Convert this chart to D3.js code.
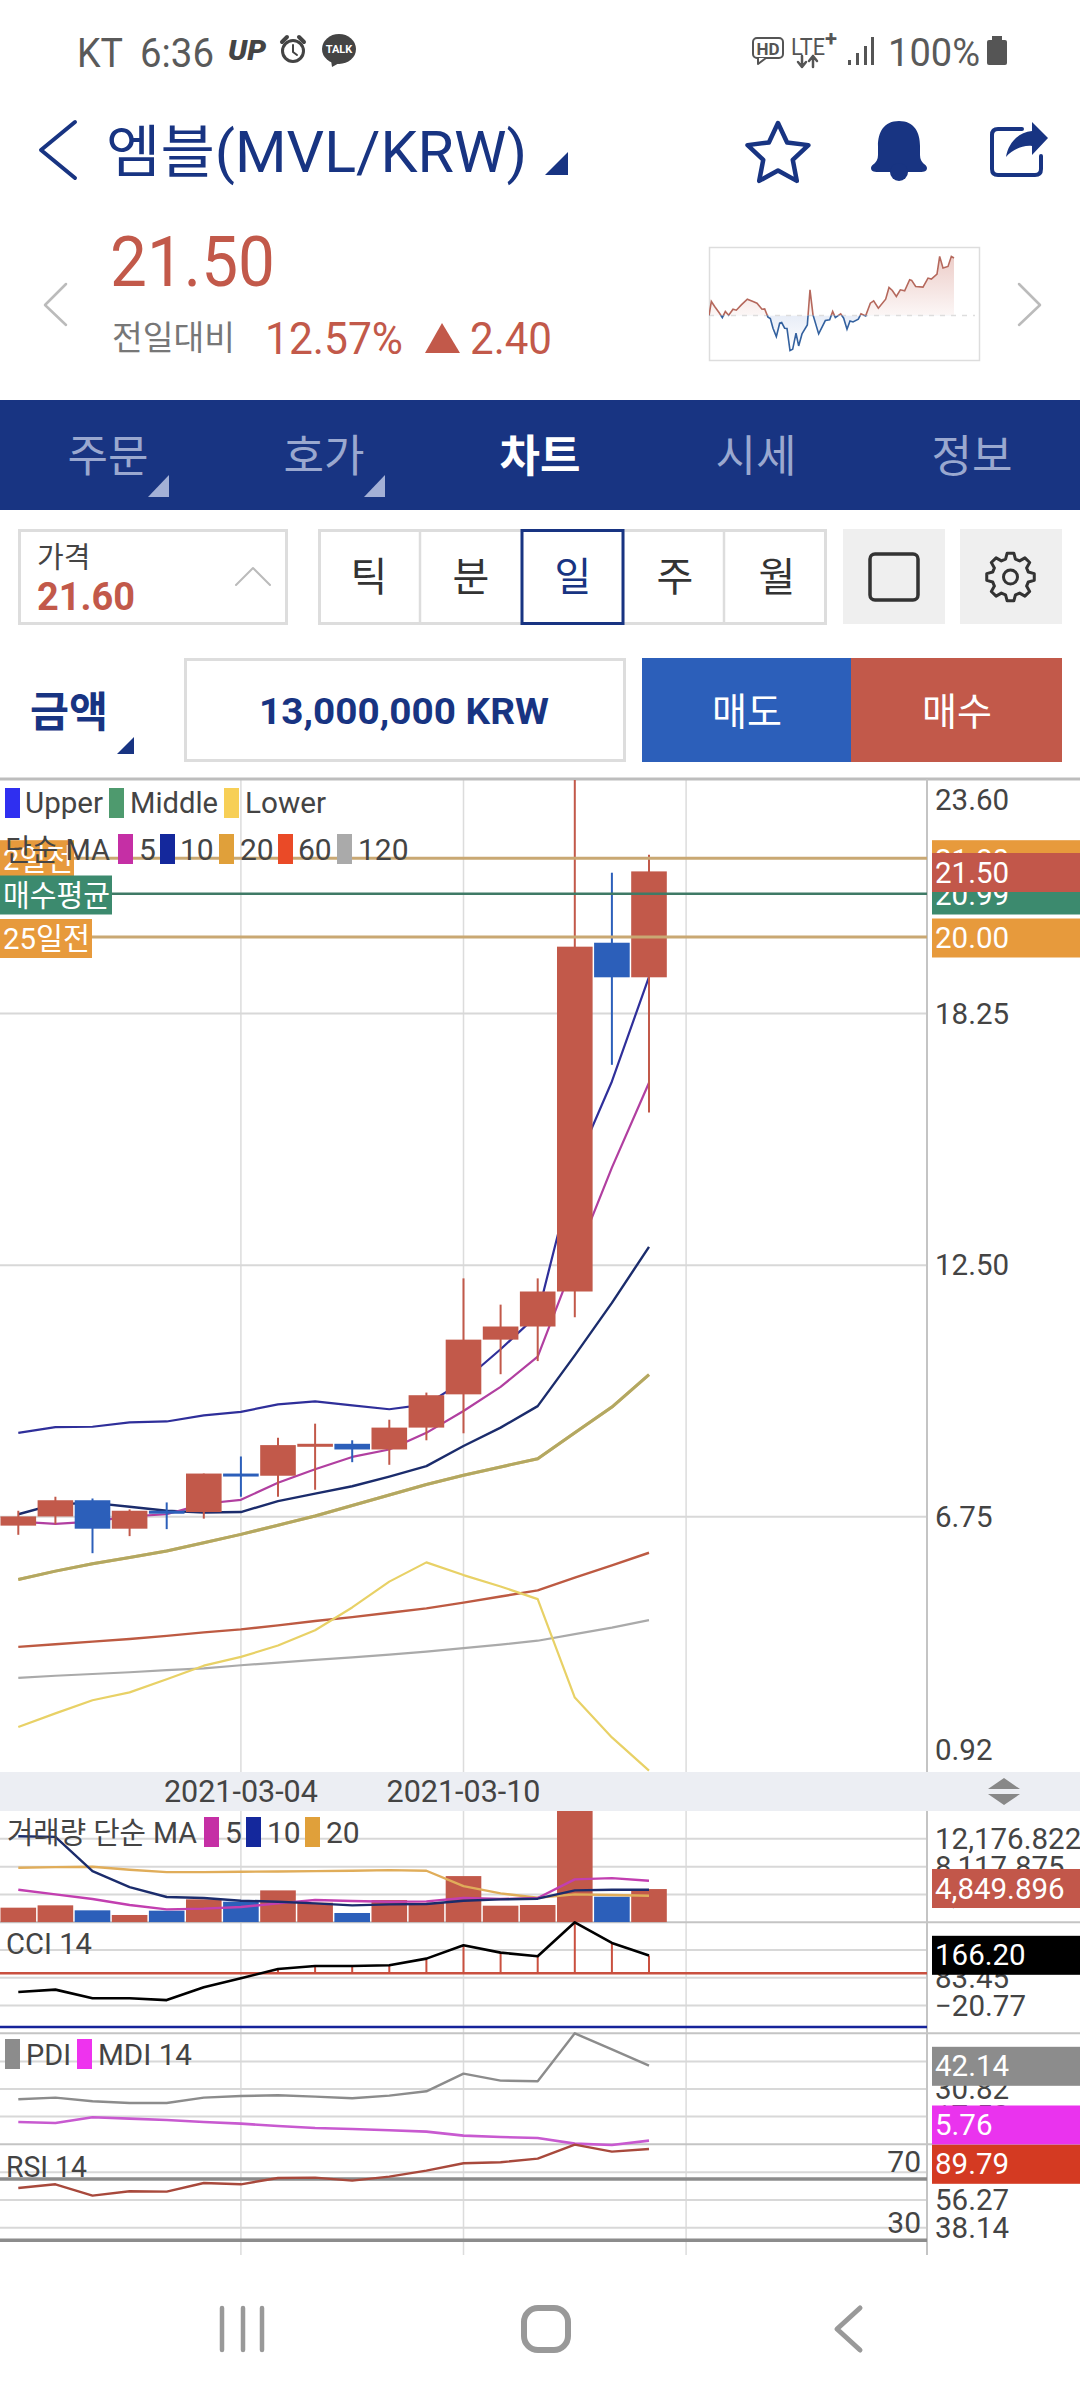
<!DOCTYPE html>
<html><head><meta charset="utf-8">
<script src="https://cdn.jsdelivr.net/npm/d3@7"></script>
<style>html,body{margin:0;padding:0;background:#fff}svg{display:block}text{font-family:Roboto,"Noto Sans CJK KR",sans-serif}</style>
</head><body><svg id="c" width="1080" height="2400" viewBox="0 0 1080 2400"></svg>
<script>
// ---------- data ----------
const dates=["2021-02-26","2021-02-27","2021-02-28","2021-03-01","2021-03-02","2021-03-03","2021-03-04","2021-03-05","2021-03-06","2021-03-07","2021-03-08","2021-03-09","2021-03-10","2021-03-11","2021-03-12","2021-03-13","2021-03-14","2021-03-15","2021-03-16"];
const dateTicks=["2021-03-04","2021-03-10"];
const opens =[6.55,6.76,7.13,6.48,6.89,6.86,7.74,7.69,8.39,8.42,8.29,8.79,9.55,10.80,11.10,11.90,19.87,19.08];
const highs =[6.89,7.21,7.17,6.92,7.08,7.74,8.13,8.56,8.88,8.50,8.97,9.59,12.20,11.60,12.20,25.50,21.47,21.88];
const lows  =[6.34,6.58,5.92,6.31,6.47,6.71,7.21,7.21,7.37,8.00,7.94,8.50,8.66,10.01,10.31,11.31,17.08,15.99];
const closes=[6.76,7.13,6.48,6.89,6.85,7.74,7.69,8.39,8.42,8.29,8.79,9.53,10.80,11.10,11.90,19.78,19.08,21.50];
const bbUpper=[8.67,8.80,8.81,8.91,8.93,9.07,9.15,9.32,9.39,9.30,9.21,9.32,9.85,10.58,11.37,14.73,16.70,19.09];
const bbMiddle=[5.32,5.51,5.68,5.82,5.97,6.16,6.35,6.56,6.77,7.01,7.25,7.49,7.70,7.89,8.08,8.67,9.26,10.00];
const bbLower=[1.95,2.26,2.56,2.74,3.04,3.35,3.55,3.81,4.16,4.68,5.27,5.71,5.42,5.16,4.87,2.62,1.71,0.95];
const ma5=[6.64,6.59,6.64,6.76,6.81,7.05,7.14,7.53,7.84,8.12,8.29,8.67,9.17,9.72,10.41,12.61,14.73,16.67];
const ma10=[6.81,7.04,7.07,6.98,6.89,6.85,6.86,7.11,7.28,7.45,7.67,7.91,8.37,8.79,9.28,10.44,11.64,12.92];
const ma60=[3.78,3.84,3.90,3.96,4.03,4.11,4.18,4.27,4.37,4.46,4.56,4.66,4.79,4.93,5.07,5.36,5.64,5.93];
const ma120=[3.07,3.12,3.16,3.20,3.25,3.29,3.36,3.42,3.48,3.54,3.60,3.67,3.75,3.83,3.92,4.07,4.22,4.39];
const priceTicks=[23.60,18.25,12.50,6.75,0.92];
const volumes=[2134,2474,1746,1067,1698,3347,3007,4656,2862,1358,3250,2862,6742,2425,2522,17500,3735,4849.896];
const volMa5=[4753,4074,3395,2522,1892,1989,2231,2765,3250,3104,3007,3056,3541,3395,3541,6257,6451,6063];
const volMa10=[12562,12465,7469,5141,3686,3541,3153,3007,2765,2474,2619,2668,3153,3347,3444,4656,4753,4753];
const volMa20=[7954,8051,8100,7663,7324,7324,7372,7421,7469,7518,7615,7518,5287,4220,3589,4074,3977,3880];
const volTicks=[12176.822,8117.875,4058.947];
const cci=[30.1,38.8,6.5,6.5,-0.2,47.5,81,115.7,126.9,126.9,129.4,154.2,203.8,176.5,162.9,289.4,212.5,166.2];
const cciTicks=[186.6,83.45,-20.77];
const pdi=[25.81,26.62,24.84,24.03,24.03,26.62,27.42,27.75,27.10,26.29,27.59,29.69,38.26,34.86,34.54,57.82,50.06,42.14];
const mdi=[14.81,14.33,17.08,16.43,15.78,14.81,14.0,12.87,11.90,11.42,10.77,10.12,8.18,7.53,7.05,4.30,3.66,5.76];
const diTicks=[44.14,30.82,17.50];
const rsi=[64.13,66.52,59.13,61.96,61.74,67.39,66.52,70.65,70.87,68.91,71.52,75.44,80.22,80.87,83.26,92.39,87.83,89.57];
const rsiTicks=[74.41,56.27,38.14];
const sparkT=[0,7,17,30,40,49,59,72,82,97,115,132,144,159,167,177,184,192,202,212,218,227,234,243,251,261,269,279,295,303,312,329,349,362,371,379,395,404,414,423,432,448,456,470,484,494,508,530,540,550,562,574,587,602,608,620,642,657,667,684,692,702,717,727,735];
const sparkV=[0,4.2,2.7,.9,-.6,1.2,.1,1.9,1.6,3.2,4.9,4.2,3.7,1.9,2,-.5,-.9,-3.8,-6.3,-2.3,-2.1,-3.8,-3.9,-10.5,-10.1,-5.3,-9.1,-5.5,-2.8,7.7,.2,-5.5,-1.5,-1.3,1.2,-.6,.5,-.8,-4.1,-1.6,-1.9,-1.1,.5,-.1,3.7,4.4,2.2,4.9,8.4,7.5,5.7,7.7,7.4,10.7,10.5,8.7,8.5,11.2,10.9,12.4,17.7,14.2,14.7,17.7,17.2];
const tabs=["주문","호가","차트","시세","정보"];
const periods=["틱","분","일","주","월"];

// ---------- setup ----------
const NAVY="#183482",RED="#c2594a",BLUE="#2c5fba",INK="#444";
const svg=d3.select("#c");
function t(x,y,s,o={}){const e=svg.append("text").attr("x",x).attr("y",y).attr("dominant-baseline",o.base||"central")
 .attr("font-size",o.size||29.5).attr("fill",o.fill||INK).attr("font-weight",o.weight||400).attr("text-anchor",o.anchor||"start").text(s);
 if(o.style)e.attr("font-style",o.style);
 if(o.len)e.attr("textLength",o.len).attr("lengthAdjust","spacingAndGlyphs");return e;}
function r(x,y,w,h,f,o={}){return svg.append("rect").attr("x",x).attr("y",y).attr("width",w).attr("height",h).attr("fill",f).attr("stroke",o.stroke||"none").attr("stroke-width",o.sw||0).attr("rx",o.rx||0);}
function p(d,f,o={}){return svg.append("path").attr("d",d).attr("fill",f).attr("stroke",o.stroke||"none").attr("stroke-width",o.sw||0).attr("stroke-linejoin","round").attr("stroke-linecap",o.cap||"round");}

// ---------- status bar ----------
const SB="#5a5a5a";
t(77,66.5,"KT",{size:40,fill:SB,base:"auto",len:46});
t(140,66.5,"6:36",{size:40,fill:SB,base:"auto",len:74});
t(228,60,"UP",{size:27,fill:"#444",weight:900,style:"italic",base:"auto",len:38});
svg.append("circle").attr("cx",293).attr("cy",51).attr("r",10.5).attr("fill","none").attr("stroke","#444").attr("stroke-width",3);
p("M293,45 L293,52 L297,55","none",{stroke:"#444",sw:2});
p("M282,42 L287,37 M304,42 L299,37","none",{stroke:"#444",sw:4});
svg.append("ellipse").attr("cx",339).attr("cy",49).attr("rx",17).attr("ry",15).attr("fill","#444");
p("M331,60 L332,67 L341,62 Z","#444");
t(339,49,"TALK",{size:11,fill:"#fff",weight:700,anchor:"middle"});
r(753,38,30,20,"#fff",{stroke:"#555",sw:2,rx:4});
p("M758,58 L758,64 L766,58","#fff",{stroke:"#555",sw:2});
t(768,48.5,"HD",{size:17,fill:"#555",weight:700,anchor:"middle"});
t(791,55,"LTE",{size:24,fill:"#555",base:"auto",len:34});
t(825,46,"+",{size:22,fill:"#555",weight:700,base:"auto"});
p("M802,56 L802,67 M798,62 L802,67 L806,62 M813,67 L813,56 M809,61 L813,56 L817,61","none",{stroke:"#555",sw:2.5});
[[848,60],[856,53],[864,46],[871,37]].forEach(b=>r(b[0],b[1],3,65-b[1],"#555"));
t(888,66,"100%",{size:38,fill:SB,base:"auto",len:92});
r(987,40,20,25,"#555",{rx:2});r(992,36,10,5,"#555");

// ---------- title ----------
p("M75,122 L41,150 L75,178","none",{stroke:NAVY,sw:4});
t(106,172,"엠블(MVL/KRW)",{size:57,fill:NAVY,base:"auto",len:421});
p("M568,152 L568,175 L545,175 Z",NAVY);
const starPts=d3.range(10).map(i=>[i*Math.PI/5,i%2?15.5:32]);
svg.append("path").attr("d",d3.lineRadial().curve(d3.curveLinearClosed)(starPts)).attr("transform","translate(778,155)").attr("fill","none").attr("stroke",NAVY).attr("stroke-width",4.5).attr("stroke-linejoin","round");
p("M899,121 C884,121 878,132 878,146 L878,155 C878,164 871,164 871,168 C871,172 875,172 880,172 L918,172 C923,172 927,172 927,168 C927,164 920,164 920,155 L920,146 C920,132 914,121 899,121 Z",NAVY);
svg.append("circle").attr("cx",899).attr("cy",172).attr("r",9).attr("fill",NAVY);
p("M1022,129 L998,129 Q992,129 992,135 L992,169 Q992,175 998,175 L1035,175 Q1041,175 1041,169 L1041,156","none",{stroke:NAVY,sw:4});
p("M1048,138 L1032,122 L1032,131 C1018,132 1008,144 1006,157 C1012,150 1022,145 1032,146 L1032,155 Z",NAVY);

// ---------- price summary ----------
t(110,286,"21.50",{size:71,fill:RED,base:"auto",len:165});
p("M66,284 L45,305 L66,325","none",{stroke:"#bbb",sw:2.5});
p("M1019,284 L1040,305 L1019,325","none",{stroke:"#bbb",sw:2.5});
t(112,338,"전일대비",{size:34,fill:"#777",len:123});
t(265,339,"12.57%",{size:44,fill:RED,len:138});
p("M442,323 L425,353 L460,353 Z",RED);
t(470,339,"2.40",{size:44,fill:RED,len:82});

// sparkline
r(709.5,247.5,270,113,"#fff",{stroke:"#ddd",sw:1.5});
const sx=d3.scaleLinear().domain([0,810]).range([709,979]);
const sy=d3.scaleLinear().domain([-13.3,20.5]).range([360,247]);
const defs=svg.append("defs");
const g1=defs.append("linearGradient").attr("id","gr").attr("x1",0).attr("y1",0).attr("x2",0).attr("y2",1);
g1.append("stop").attr("offset",0).attr("stop-color",RED).attr("stop-opacity",.3);
g1.append("stop").attr("offset",.75).attr("stop-color",RED).attr("stop-opacity",0);
const g2=defs.append("linearGradient").attr("id","gb").attr("x1",0).attr("y1",0).attr("x2",0).attr("y2",1);
g2.append("stop").attr("offset",.6).attr("stop-color",BLUE).attr("stop-opacity",.12);
g2.append("stop").attr("offset",1).attr("stop-color",BLUE).attr("stop-opacity",0);
defs.append("clipPath").attr("id","sUp").append("rect").attr("x",709).attr("y",247).attr("width",270).attr("height",sy(0)-247);
defs.append("clipPath").attr("id","sDn").append("rect").attr("x",709).attr("y",sy(0)).attr("width",270).attr("height",360-sy(0));
defs.append("clipPath").attr("id","pricePanel").append("rect").attr("x",0).attr("y",780).attr("width",927).attr("height",992);
defs.append("clipPath").attr("id","volPanel").append("rect").attr("x",0).attr("y",1811).attr("width",927).attr("height",111.3);
const sparkData=sparkT.map((d,i)=>[d,sparkV[i]]);
const sLine=d3.line().x(d=>sx(d[0])).y(d=>sy(d[1]));
const sArea=d3.area().x(d=>sx(d[0])).y0(sy(0)).y1(d=>sy(d[1]));
svg.append("path").attr("d",sArea(sparkData)).attr("fill","url(#gr)").attr("clip-path","url(#sUp)");
svg.append("path").attr("d",sArea(sparkData)).attr("fill","url(#gb)").attr("clip-path","url(#sDn)");
svg.append("line").attr("x1",709).attr("x2",975).attr("y1",sy(0)).attr("y2",sy(0)).attr("stroke","#ddd").attr("stroke-width",1.5).attr("stroke-dasharray","5 6");
svg.append("path").attr("d",sLine(sparkData)).attr("fill","none").attr("stroke","#b5685c").attr("stroke-width",1.6).attr("clip-path","url(#sUp)");
svg.append("path").attr("d",sLine(sparkData)).attr("fill","none").attr("stroke","#33619f").attr("stroke-width",1.6).attr("clip-path","url(#sDn)");

// ---------- tabs ----------
r(0,400,1080,110,NAVY);
tabs.forEach((d,i)=>{t(108+216*i,457,d,{size:44,fill:i==2?"#fff":"#9aa8cf",weight:i==2?700:400,anchor:"middle"});});
[0,1].forEach(i=>p(`M${169+216*i},475 L${169+216*i},497 L${148+216*i},497 Z`,"#a3b0d6"));

// ---------- controls ----------
r(19.5,530.5,267,93,"#fff",{stroke:"#ddd",sw:3});
t(37,558,"가격",{size:29,fill:"#444"});
t(37,597,"21.60",{size:38,fill:RED,weight:700,len:98});
p("M236,585 L253,568 L270,585","none",{stroke:"#bbb",sw:2});
r(319.5,530.5,506,93,"#fff",{stroke:"#ddd",sw:3});
[420,623,724].forEach(v=>svg.append("line").attr("x1",v).attr("x2",v).attr("y1",530).attr("y2",624).attr("stroke","#ddd").attr("stroke-width",2.5));
r(522,530.5,101,93,"#fff",{stroke:NAVY,sw:3});
periods.forEach((d,i)=>t(369+102*i,577,d,{size:40,fill:i==2?NAVY:"#333",anchor:"middle"}));
r(843,529,102,95,"#efefef");r(960,529,102,95,"#efefef");
r(870,554,48,46,"none",{stroke:"#333",sw:3.5,rx:5});
const gearPts=d3.range(8).flatMap(i=>{const a=i*Math.PI/4;return [[a-.27,18.5],[a-.14,24],[a+.14,24],[a+.27,18.5]].map(q=>[1010.5+q[1]*Math.cos(q[0]),577+q[1]*Math.sin(q[0])]);});
svg.append("path").attr("d",d3.line().curve(d3.curveLinearClosed)(gearPts)).attr("fill","none").attr("stroke","#333").attr("stroke-width",3).attr("stroke-linejoin","round");
svg.append("circle").attr("cx",1010.5).attr("cy",577).attr("r",7).attr("fill","none").attr("stroke","#333").attr("stroke-width",3);

t(30,712,"금액",{size:42,fill:NAVY,weight:700,len:78});
p("M134,737 L134,754 L117,754 Z",NAVY);
r(185.5,659.5,439,101,"#fff",{stroke:"#ddd",sw:3});
t(404,712,"13,000,000 KRW",{size:36,fill:NAVY,weight:700,anchor:"middle",len:290});
r(642,658,209,104,BLUE);r(851,658,211,104,RED);
t(747,712,"매도",{size:38,fill:"#fff",anchor:"middle"});
t(957,712,"매수",{size:38,fill:"#fff",anchor:"middle"});

// ---------- scales ----------
const x=d3.scaleBand().domain(dates).range([-0.25,704.65]).paddingInner(.04).paddingOuter(.02);
const cx=d=>x(d)+x.bandwidth()/2;
const days=dates.slice(0,18);
const yP=d3.scaleLinear().domain([0.92,23.60]).range([1772,779.5]);
const yV=d3.scaleLinear().domain([0,16235.8]).range([1922.3,1811]);
const yC=d3.scaleLinear().domain([-123.8,289.4]).range([2033.3,1922.3]);
const yD=d3.scaleLinear().domain([3.98,57.82]).range([2144.3,2033.3]);
const yR=d3.scaleLinear().domain([20,92.6]).range([2255.7,2144.3]);
const GRID="#d8d8d8";
function hgrid(scale,vals,x2=927,col=GRID,sw=2){svg.append("g").selectAll("line").data(vals).join("line").attr("x1",0).attr("x2",x2).attr("y1",d=>scale(d)).attr("y2",d=>scale(d)).attr("stroke",col).attr("stroke-width",sw);}

// grid
const vGrid=["2021-03-04","2021-03-10","2021-03-16"];
svg.append("g").selectAll("line").data(vGrid).join("line").attr("x1",cx).attr("x2",cx).attr("y1",779).attr("y2",2255).attr("stroke","#dcdcdc").attr("stroke-width",1.5);
hgrid(yP,[18.25,12.5,6.75]);
hgrid(yV,volTicks);hgrid(yC,cciTicks);hgrid(yD,diTicks);hgrid(yR,rsiTicks);
[1922.3,2033.3,2144.3].forEach(v=>svg.append("line").attr("x1",0).attr("x2",1080).attr("y1",v).attr("y2",v).attr("stroke","#c4c4c4").attr("stroke-width",2));
svg.append("line").attr("x1",0).attr("x2",1080).attr("y1",779).attr("y2",779).attr("stroke","#bdbdbd").attr("stroke-width",3);
svg.append("line").attr("x1",927).attr("x2",927).attr("y1",779).attr("y2",2255).attr("stroke","#c4c4c4").attr("stroke-width",2);

// price lines
const line=(scale)=>d3.line().x((d,i)=>cx(days[i])).y(d=>scale(d));
function drawLine(vals,scale,col,w,clip){const e=svg.append("path").attr("d",line(scale)(vals)).attr("fill","none").attr("stroke",col).attr("stroke-width",w).attr("stroke-linejoin","round");if(clip)e.attr("clip-path",`url(#${clip})`);return e;}
const pc="pricePanel";
drawLine(ma120,yP,"#aaaaaa",2.2,pc);
drawLine(ma60,yP,"#bd5a42",2.4,pc);
drawLine(bbLower,yP,"#e8d166",2.2,pc);
drawLine(bbMiddle,yP,"#e0a03a",3,pc);
drawLine(bbMiddle,yP,"#a3ab70",3,pc).attr("opacity",.75);
drawLine(bbUpper,yP,"#2f2f9a",2.2,pc);
drawLine(ma10,yP,"#1b2c6c",2.4,pc);
drawLine(ma5,yP,"#b13fa0",2.2,pc);

// candles
const cg=svg.append("g").attr("clip-path","url(#pricePanel)");
const col=i=>closes[i]>=opens[i]?RED:BLUE;
cg.selectAll(".w").data(days).join("line").attr("x1",cx).attr("x2",cx).attr("y1",(d,i)=>yP(highs[i])).attr("y2",(d,i)=>yP(lows[i])).attr("stroke",(d,i)=>col(i)).attr("stroke-width",2);
cg.selectAll(".b").data(days).join("rect").attr("x",d=>x(d)).attr("width",x.bandwidth())
 .attr("y",(d,i)=>yP(Math.max(opens[i],closes[i])))
 .attr("height",(d,i)=>Math.max(3,Math.abs(yP(opens[i])-yP(closes[i])))).attr("fill",(d,i)=>col(i));

// x axis band
r(0,1772,1080,39,"#eceef3");
svg.append("g").attr("transform","translate(0,1772)").call(d3.axisBottom(x).tickValues(dateTicks).tickSize(0).tickPadding(0)).call(g=>g.select(".domain").remove())
 .selectAll("text").attr("y",19).attr("dy",0).attr("dominant-baseline","central").attr("font-size",30.5).attr("font-family","Roboto").attr("fill",INK);
p("M1004,1778 L1020,1789 L988,1789 Z M988,1794 L1020,1794 L1004,1805 Z","#888",{});

// volume
const vg=svg.append("g").attr("clip-path","url(#volPanel)");
vg.selectAll("rect").data(days).join("rect").attr("x",d=>x(d)).attr("width",x.bandwidth()).attr("y",(d,i)=>yV(volumes[i])).attr("height",(d,i)=>yV(0)-yV(volumes[i])).attr("fill",(d,i)=>col(i));
drawLine(volMa20,yV,"#e0ad5a",2.4,"volPanel");
drawLine(volMa5,yV,"#c23fb0",2.4,"volPanel");
drawLine(volMa10,yV,"#1b2c6c",2.4,"volPanel");

// cci
svg.append("line").attr("x1",0).attr("x2",927).attr("y1",yC(100)).attr("y2",yC(100)).attr("stroke","#c9503f").attr("stroke-width",2.5);
svg.append("line").attr("x1",0).attr("x2",927).attr("y1",yC(-100)).attr("y2",yC(-100)).attr("stroke","#16239a").attr("stroke-width",2.5);
svg.append("g").selectAll("line").data(days.filter((d,i)=>cci[i]>100)).join("line").attr("x1",cx).attr("x2",cx).attr("y1",yC(100)).attr("y2",d=>yC(cci[days.indexOf(d)])).attr("stroke","#c9503f").attr("stroke-width",2);
drawLine(cci,yC,"#000",2.6);

// di
drawLine(pdi,yD,"#8c8c8c",2.4);
drawLine(mdi,yD,"#c85ad0",2.6);

// rsi
[70,30].forEach(v=>svg.append("line").attr("x1",0).attr("x2",927).attr("y1",yR(v)).attr("y2",yR(v)).attr("stroke","#8c8c8c").attr("stroke-width",3.5));
drawLine(rsi,yR,"#a8493c",2.4);
t(921,2161.7,"70",{size:30,anchor:"end"});
t(921,2222,"30",{size:30,anchor:"end"});

// price reference lines
const refLines=[[21.80,"#c9a873",3],[20.99,"#3f7a66",2.5],[20.00,"#c9a873",3]];
refLines.forEach(d=>svg.append("line").attr("x1",0).attr("x2",927).attr("y1",yP(d[0])).attr("y2",yP(d[0])).attr("stroke",d[1]).attr("stroke-width",d[2]));

// right axes
function axis(scale,vals,fmt){const g=svg.append("g").attr("transform","translate(927,0)").call(d3.axisRight(scale).tickValues(vals).tickSize(0).tickPadding(8).tickFormat(fmt));
 g.select(".domain").remove();g.selectAll("text").attr("font-size",29.5).attr("font-family","Roboto").attr("fill",INK);return g;}
const pa=axis(yP,priceTicks,d3.format(".2f"));
pa.selectAll(".tick").filter(d=>d==23.60).select("text").attr("y",21);
pa.selectAll(".tick").filter(d=>d==0.92).select("text").attr("y",-22);
axis(yV,volTicks,d3.format(",.3f"));
axis(yC,cciTicks,d3.format(".2f"));
axis(yD,diTicks,d3.format(".2f"));
axis(yR,rsiTicks,d3.format(".2f"));

// value boxes
function box(cy,c,s,tc="#fff"){r(932,cy-19.5,148,39,c);t(935,cy,s,{fill:tc,size:29.5});}
const OR="#e79a3c",GR="#3c8a6e";
box(859.7,OR,"21.80");
box(895,GR,"20.99");
box(938,OR,"20.00");
box(872.5,"#c2574a","21.50");
box(1888.5,"#c2574a","4,849.896");
box(1955.3,"#000","166.20");
box(2066.3,"#8c8c8c","42.14");
box(2125,"#ea33ee","5.76");
box(2164.3,"#d43a22","89.79");

// left tags
function tag(cy,w,c,s,l){r(0,cy-19.5,w,39,c);t(3,cy,s,{fill:"#fff",size:30,len:l});}
tag(859.7,74,OR,"2일전",70);
tag(895,112,GR,"매수평균",107);
tag(938.5,92,OR,"25일전",87);

// legends
function sw(x0,y0,c){r(x0,y0,15,30,c);}
sw(5,788,"#2f2ff0");t(25,802.5,"Upper",{size:30,len:78});
sw(109,788,"#4e9a6e");t(130,802.5,"Middle",{size:30,len:88});
sw(224,788,"#f7cf56");t(245,802.5,"Lower",{size:30,len:81});
t(5,849,"단순 MA",{size:30,len:105});
sw(118,834,"#c52fa5");t(139,849,"5",{size:30});
sw(160,834,"#14289c");t(180,849,"10",{size:30});
sw(219,834,"#e0a03a");t(240,849,"20",{size:30});
sw(278,834,"#ea4a27");t(298,849,"60",{size:30});
sw(337,834,"#aaaaaa");t(358,849,"120",{size:30});
t(7,1832,"거래량 단순 MA",{size:30,len:190});
sw(204,1817,"#c52fa5");t(225,1832,"5",{size:30});
sw(246,1817,"#14289c");t(267,1832,"10",{size:30});
sw(305,1817,"#e0a03a");t(326,1832,"20",{size:30});
t(6,1943,"CCI 14",{size:30,len:86});
sw(5,2039,"#8c8c8c");t(26,2054,"PDI",{size:30,len:45});
sw(77,2039,"#ee33ee");t(98,2054,"MDI 14",{size:30,len:94});
t(6,2166,"RSI 14",{size:30,len:81});

// nav bar
[222,243,262].forEach(v=>svg.append("line").attr("x1",v).attr("x2",v).attr("y1",2308).attr("y2",2350).attr("stroke","#999").attr("stroke-width",4.5).attr("stroke-linecap","round"));
r(524,2308,44,42,"none",{stroke:"#999",sw:6,rx:14});
p("M860,2308 L837,2329 L860,2350","none",{stroke:"#999",sw:5});
</script></body></html>
